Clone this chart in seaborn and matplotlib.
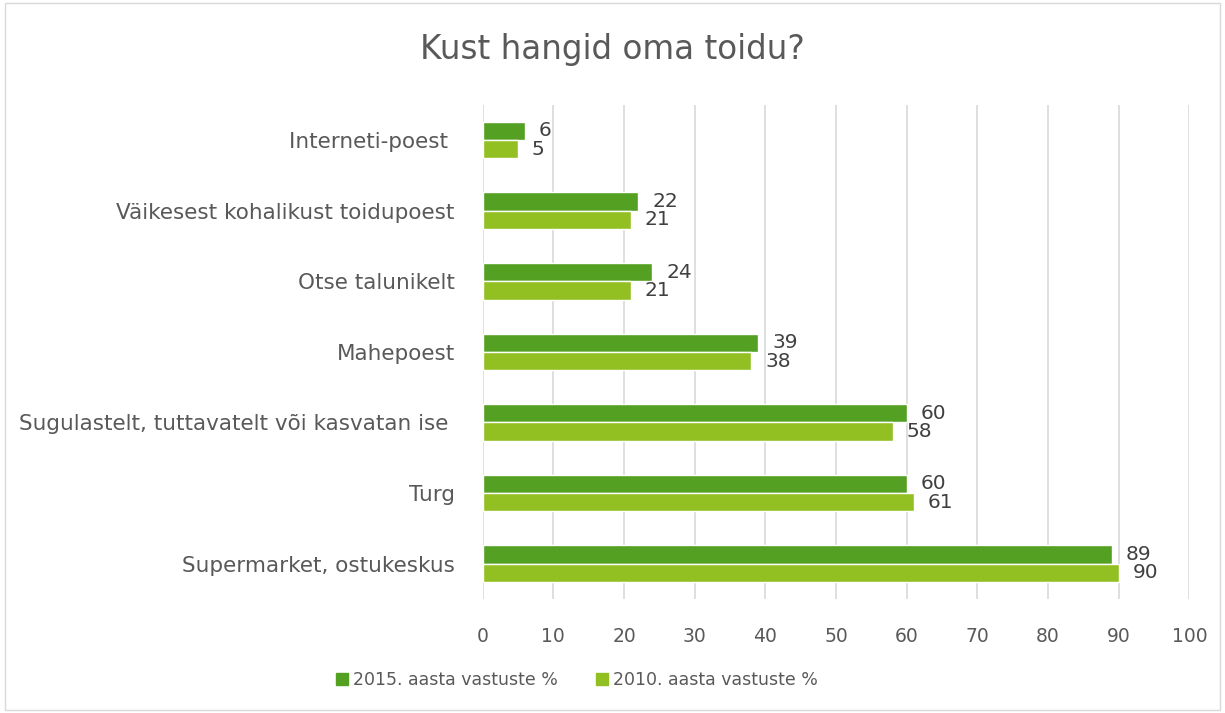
import pandas as pd
import seaborn as sns
import matplotlib.pyplot as plt
from matplotlib.patches import Rectangle

categories = ["Interneti-poest ", "Väikesest kohalikust toidupoest", "Otse talunikelt", "Mahepoest",
              "Sugulastelt, tuttavatelt või kasvatan ise ", "Turg", "Supermarket, ostukeskus"]
series_names = ["2015. aasta vastuste %", "2010. aasta vastuste %"]
values_2015 = [6, 22, 24, 39, 60, 60, 89]
values_2010 = [5, 21, 21, 38, 58, 61, 90]
colors = ["#53A022", "#92C023"]

df = pd.DataFrame({
    "kategooria": categories * 2,
    "aasta": [series_names[0]] * len(categories) + [series_names[1]] * len(categories),
    "väärtus": values_2015 + values_2010,
})

sns.set_style("white")
plt.rcParams['font.family'] = ['DejaVu Sans']
text_col = "#595959"

fig = plt.figure(figsize=(12.25, 7.13), dpi=100)
ax = fig.add_axes([0.394, 0.160, 0.577, 0.693])

sns.barplot(data=df, y="kategooria", x="väärtus", hue="aasta", orient="h",
            palette=colors, width=0.52, ax=ax, legend=False, saturation=1)

for c in ax.containers:
    ax.bar_label(c, padding=10, fontsize=14.5, color="#404040")

ax.set_xlim(0, 100)
ax.set_xticks(range(0, 101, 10))
ax.xaxis.grid(True, color="#D9D9D9", linewidth=1.2)
ax.set_axisbelow(True)
for s in ax.spines.values():
    s.set_visible(False)
ax.set_xlabel("")
ax.set_ylabel("")
ax.tick_params(axis="x", labelsize=13.5, colors=text_col, length=0, pad=20)
ax.tick_params(axis="y", labelsize=15.5, colors=text_col, length=0, pad=20)

fig.text(0.5, 0.93, "Kust hangid oma toidu?", ha="center", va="center", fontsize=23.5, color=text_col)

handles = [Rectangle((0, 0), 1, 1, color=c) for c in colors]
fig.legend(handles, series_names, loc="center", bbox_to_anchor=(0.471, 0.046), ncol=2,
           frameon=False, fontsize=12.5, labelcolor=text_col, handlelength=0.7, handleheight=0.7,
           handletextpad=0.3, columnspacing=2.2)

fig.patches.append(Rectangle((0.004, 0.004), 0.992, 0.992, transform=fig.transFigure,
                             fill=False, edgecolor="#D9D9D9", linewidth=1))

fig.savefig("out.png", dpi=100)
